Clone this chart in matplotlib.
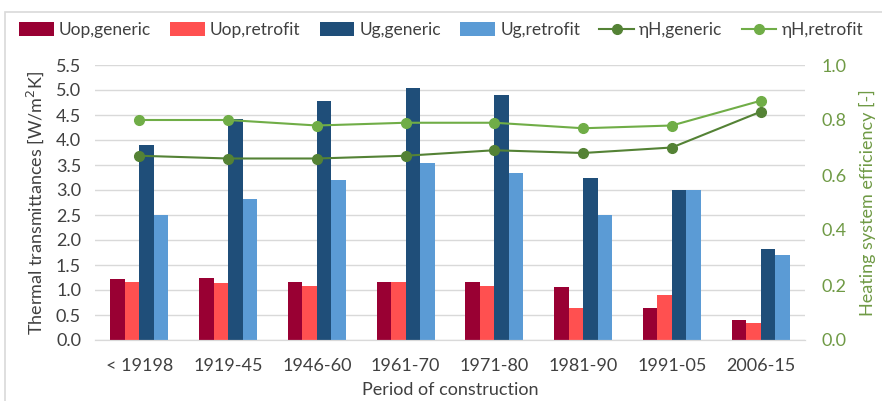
import matplotlib.pyplot as plt
import numpy as np
from matplotlib.patches import Rectangle

# Period of construction categories
periods = ["< 19198", "1919-45", "1946-60", "1961-70", "1971-80", "1981-90", "1991-05", "2006-15"]

# Thermal transmittances [W/m2K]
uop_generic = [1.23, 1.25, 1.16, 1.16, 1.16, 1.07, 0.64, 0.40]
uop_retrofit = [1.16, 1.14, 1.09, 1.16, 1.09, 0.64, 0.90, 0.34]
ug_generic = [3.90, 4.43, 4.78, 5.05, 4.90, 3.25, 3.00, 1.83]
ug_retrofit = [2.50, 2.82, 3.20, 3.55, 3.35, 2.50, 3.00, 1.71]

# Heating system efficiency [-]
eta_generic = [0.67, 0.66, 0.66, 0.67, 0.69, 0.68, 0.70, 0.83]
eta_retrofit = [0.80, 0.80, 0.78, 0.79, 0.79, 0.77, 0.78, 0.87]

plt.rcParams["font.family"] = ["Lato", "DejaVu Sans"]

fig = plt.figure(figsize=(8.82, 4.01), dpi=100)
ax = fig.add_axes([95 / 882, 1 - 340 / 401, 710 / 882, 275 / 401])
ax2 = ax.twinx()

# light frame around the whole chart, like the Excel chart area
fig.patches.append(Rectangle((5 / 882, -0.05), 1.0, 1.05 - 12 / 401, transform=fig.transFigure,
                             fill=False, edgecolor="#d9d9d9", linewidth=1.2))

x = np.arange(len(periods))
w = 0.163
bar_series = [
    (uop_generic, "Uop,generic", "#990033"),
    (uop_retrofit, "Uop,retrofit", "#ff5050"),
    (ug_generic, "Ug,generic", "#1f4e79"),
    (ug_retrofit, "Ug,retrofit", "#5b9bd5"),
]
handles = []
for i, (vals, label, color) in enumerate(bar_series):
    b = ax.bar(x + (i - 1.5) * w, vals, w, color=color, label=label, zorder=2)
    handles.append(b)

l1, = ax2.plot(x, eta_generic, "-o", color="#548235", markersize=7, linewidth=1.5, label="ηH,generic", zorder=3)
l2, = ax2.plot(x, eta_retrofit, "-o", color="#70ad47", markersize=7, linewidth=1.5, label="ηH,retrofit", zorder=3)
handles += [l1, l2]

ax.set_xlim(-0.5, len(periods) - 0.5)
ax.set_ylim(0, 5.5)
ax.set_yticks(np.arange(0, 5.51, 0.5))
ax.set_yticklabels([f"{v:.1f}" for v in np.arange(0, 5.51, 0.5)])
ax.grid(axis="y", color="#d9d9d9", linewidth=1, zorder=0)
ax.set_axisbelow(True)
ax.set_xticks(x)
ax.set_xticklabels(periods)

ax2.set_ylim(0, 1.0)
ax2.set_yticks(np.arange(0, 1.01, 0.2))
ax2.set_yticklabels([f"{v:.1f}" for v in np.arange(0, 1.01, 0.2)])

for a in (ax, ax2):
    for s in ("top", "left", "right"):
        a.spines[s].set_visible(False)
    a.spines["bottom"].set_color("#d9d9d9")
    a.tick_params(length=0, labelsize=13)

ax.tick_params(axis="y", colors="#404040", pad=10)
ax.tick_params(axis="x", colors="#404040", pad=13)
ax2.tick_params(axis="y", colors="#6f9a45", pad=12)

ax.set_ylabel("Thermal transmittances [W/m$^2$K]", fontsize=13, color="#404040", labelpad=7)
ax2.set_ylabel("Heating system efficiency [-]", fontsize=13, color="#6f9a45", labelpad=9)
ax.set_xlabel("Period of construction", fontsize=13, color="#404040", labelpad=6)

fig.legend(handles=handles, loc="center", bbox_to_anchor=(0.5, 1 - 30 / 401), ncol=6,
           frameon=False, fontsize=12.5, handlelength=2.0, handleheight=0.8,
           columnspacing=1.1, handletextpad=0.3, labelcolor="#404040")

fig.savefig("out.png", dpi=100)
